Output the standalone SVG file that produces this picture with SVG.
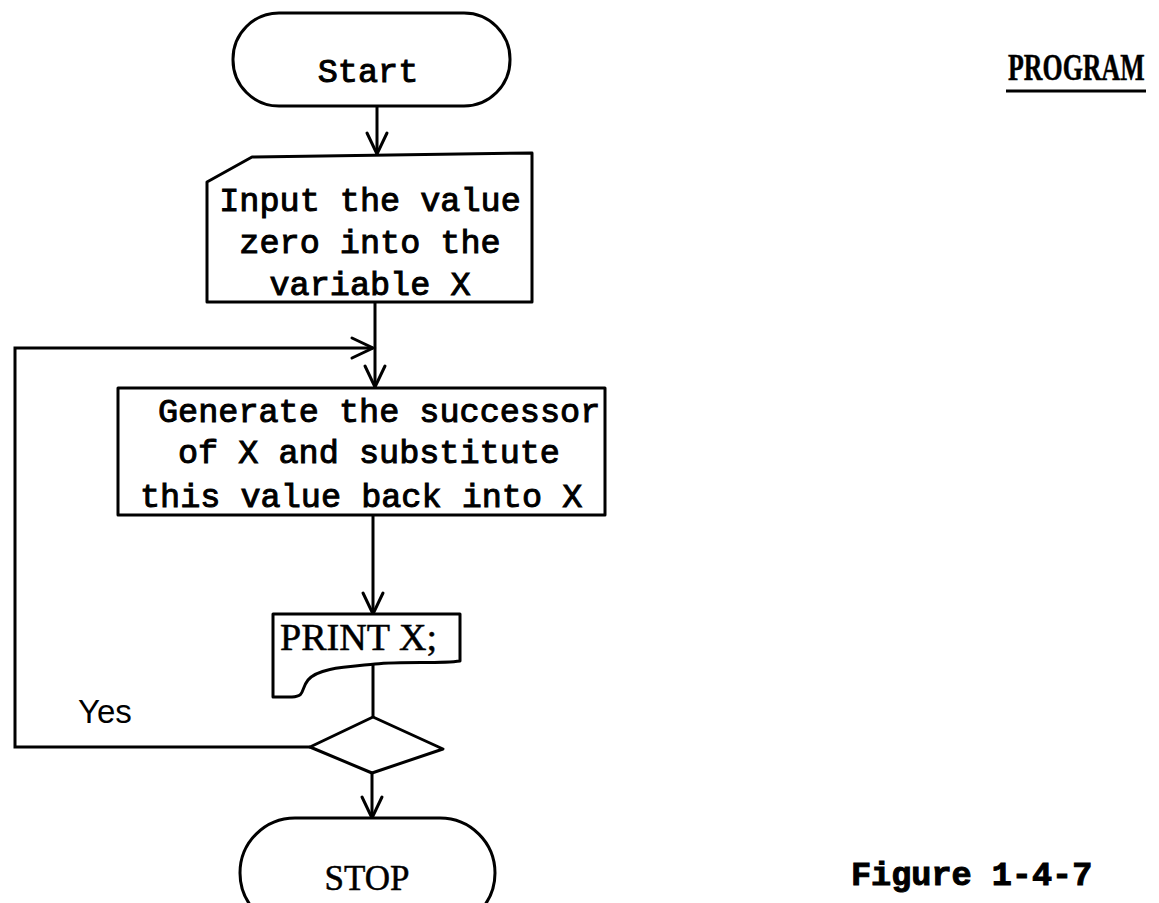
<svg xmlns="http://www.w3.org/2000/svg" width="1159" height="903" viewBox="0 0 1159 903">
  <defs>
    <!-- open V arrowhead, tip at the end of the line -->
    <marker id="vee" markerUnits="userSpaceOnUse" markerWidth="26" markerHeight="26" refX="22" refY="12" orient="auto" overflow="visible">
      <path d="M1,2 L22,12 L1,22" fill="none" stroke="#000" stroke-width="3" stroke-linejoin="miter" stroke-linecap="round"/>
    </marker>
    <style>
      .shape { fill: #fff; stroke: #000; stroke-width: 3; stroke-linejoin: round; }
      .wire { fill: none; stroke: #000; stroke-width: 3; stroke-linejoin: miter; }
      .tw { font-family: "Liberation Mono", "Courier New", monospace; font-size: 33.5px; fill: #000; stroke: #000; stroke-width: 1px; }
      .rm { font-family: "Liberation Serif", "Times New Roman", serif; fill: #000; stroke: #000; stroke-width: 0.5px; }
      .ss { font-family: "Liberation Sans", Arial, sans-serif; fill: #000; }
    </style>
  </defs>
  <rect width="1159" height="903" fill="#fff"/>

  <!-- connectors -->
  <g id="connectors">
    <line class="wire" x1="377" y1="106" x2="377" y2="154" marker-end="url(#vee)"/>
    <line class="wire" x1="375" y1="302" x2="375" y2="387" marker-end="url(#vee)"/>
    <polyline class="wire" points="310,747 15,747 15,348 373,348" marker-end="url(#vee)"/>
    <line class="wire" x1="373" y1="515" x2="373" y2="614" marker-end="url(#vee)"/>
    <line class="wire" x1="373" y1="662" x2="373" y2="717"/>
    <line class="wire" x1="372" y1="773" x2="372" y2="818" marker-end="url(#vee)"/>
  </g>

  <!-- terminal: Start -->
  <g id="start">
    <rect class="shape" x="233" y="13" width="277" height="93" rx="46" ry="46"/>
    <text class="tw" x="368" y="82" text-anchor="middle">Start</text>
  </g>

  <!-- manual input -->
  <g id="input">
    <path class="shape" d="M207,182 L252,157 L532,153 L532,302 L207,302 Z"/>
    <text class="tw" x="370" y="211" text-anchor="middle">Input the value</text>
    <text class="tw" x="370" y="253" text-anchor="middle">zero into the</text>
    <text class="tw" x="370" y="295" text-anchor="middle">variable X</text>
  </g>

  <!-- process -->
  <g id="generate">
    <rect class="shape" x="118" y="388" width="487" height="127"/>
    <text class="tw" x="158" y="422">Generate the successor</text>
    <text class="tw" x="178" y="463">of X and substitute</text>
    <text class="tw" x="140" y="507">this value back into X</text>
  </g>

  <!-- document: print -->
  <g id="print">
    <path class="shape" d="M273,614 L460,614 L460,661 C440,664 405,661 375,664 C345,667 318,668 308,680 C300,690 306,696 292,697 L273,697 Z"/>
    <text class="rm" x="280" y="650" font-size="37" textLength="157" lengthAdjust="spacingAndGlyphs">PRINT X;</text>
  </g>

  <!-- decision -->
  <g id="decision">
    <polygon class="shape" points="373,717 443,749 372,773 310,747"/>
    <text class="ss" x="78" y="723" font-size="33">Yes</text>
  </g>

  <!-- terminal: STOP -->
  <g id="stop">
    <rect class="shape" x="240" y="818" width="255" height="110" rx="55" ry="55"/>
    <text class="rm" x="367" y="890" font-size="35" text-anchor="middle">STOP</text>
  </g>

  <!-- captions -->
  <g id="captions">
    <!-- condensed heading: horizontally squeezed serif -->
    <text class="rm" transform="translate(1008,80) scale(0.7,1)" x="0" y="0" font-size="37" font-weight="bold">PROGRAM</text>
    <line x1="1006" y1="91" x2="1146" y2="91" stroke="#000" stroke-width="3"/>
    <text class="tw" x="851" y="885" font-weight="bold">Figure 1-4-7</text>
  </g>
</svg>
